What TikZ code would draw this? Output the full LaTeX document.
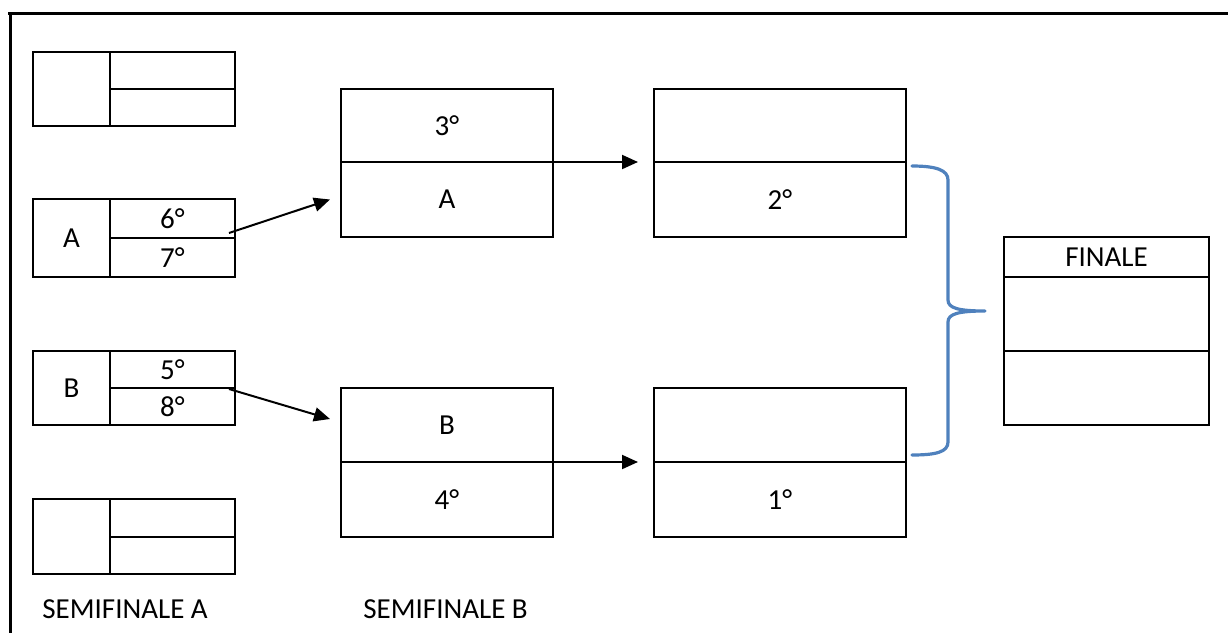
\documentclass[tikz,border=0pt]{standalone}
\usepackage{fontspec}
\setmainfont{Carlito}
\usetikzlibrary{arrows.meta}
\definecolor{bracecol}{HTML}{4F81BD}
\tikzset{
  cell/.style={draw=black, line width=1pt, inner sep=0pt, outer sep=0pt, font=\fontsize{14.5pt}{17pt}\selectfont},
  lbl/.style={inner sep=0pt, font=\fontsize{14.5pt}{17pt}\selectfont},
  arr/.style={line width=1pt, -{Triangle[length=8pt,width=7pt]}},
  frame/.style={line width=1.5pt},
  brace/.style={draw=bracecol, line width=1.6pt, line cap=round, line join=round}
}
% \cellnode{name}{x1}{y1}{x2}{y2}{text}
\newcommand\cellnode[6]{%
  \node[cell, minimum width={(#4-#2)*0.5pt}, minimum height={(#5-#3)*0.5pt}]
    (#1) at ({(#2+#4)/2},{(#3+#5)/2}) {#6};}
\begin{document}
\begin{tikzpicture}[x=0.5pt, y=-0.5pt]
\useasboundingbox (0,0) rectangle (1228,633);
% frame
\draw[frame] (8,13.5) -- (1228,13.5);
\draw[frame] (10.5,13.5) -- (10.5,633);
% left column boxes
\cellnode{p1}{33}{52}{110}{126}{}
\cellnode{p1a}{110}{52}{235}{89}{}
\cellnode{p1b}{110}{89}{235}{126}{}
\cellnode{pA}{33}{199}{110}{277}{A}
\cellnode{a6}{110}{199}{235}{238}{6°}
\cellnode{a7}{110}{238}{235}{277}{7°}
\cellnode{pB}{33}{351}{110}{425}{B}
\cellnode{b5}{110}{351}{235}{388}{5°}
\cellnode{b8}{110}{388}{235}{425}{8°}
\cellnode{p4}{33}{499}{110}{574}{}
\cellnode{p4a}{110}{499}{235}{537}{}
\cellnode{p4b}{110}{537}{235}{574}{}
% middle column
\cellnode{m3}{341}{89}{553}{162}{3°}
\cellnode{mA}{341}{162}{553}{237}{A}
\cellnode{mB}{341}{388}{553}{462}{B}
\cellnode{m4}{341}{462}{553}{537}{4°}
% right column
\cellnode{r1}{654}{89}{906}{162}{}
\cellnode{r2}{654}{162}{906}{237}{2°}
\cellnode{r3}{654}{388}{906}{462}{}
\cellnode{r1st}{654}{462}{906}{537}{1°}
% finale
\cellnode{f0}{1004}{237}{1209}{277}{FINALE}
\cellnode{f1}{1004}{277}{1209}{351}{}
\cellnode{f2}{1004}{351}{1209}{425}{}
% labels
\node[lbl, anchor=base west] (semA) at (42,618) {SEMIFINALE A};
\node[lbl, anchor=base west] (semB) at (363,618) {SEMIFINALE B};
% arrows
\draw[arr] ([xshift=-3pt,yshift=2.5pt]a6.south east) -- ([xshift=-5.5pt]mA.west);
\draw[arr] ([xshift=-3pt,yshift=-0.5pt]b5.south east) -- ([xshift=-5.5pt,yshift=3pt]mB.west);
\draw[arr, shorten >=8pt] (mA.north east) -- (r1.south west);
\draw[arr, shorten >=8pt] (m4.north east) -- (r3.south west);
% brace
\draw[brace] (912,166) .. controls (936,166) and (948,170) .. (948,180)
  -- (948,300) .. controls (948,308) and (958,311) .. (985,311)
  .. controls (958,311) and (948,314) .. (948,322)
  -- (948,442) .. controls (948,452) and (936,455) .. (912,455);
\end{tikzpicture}
\end{document}
